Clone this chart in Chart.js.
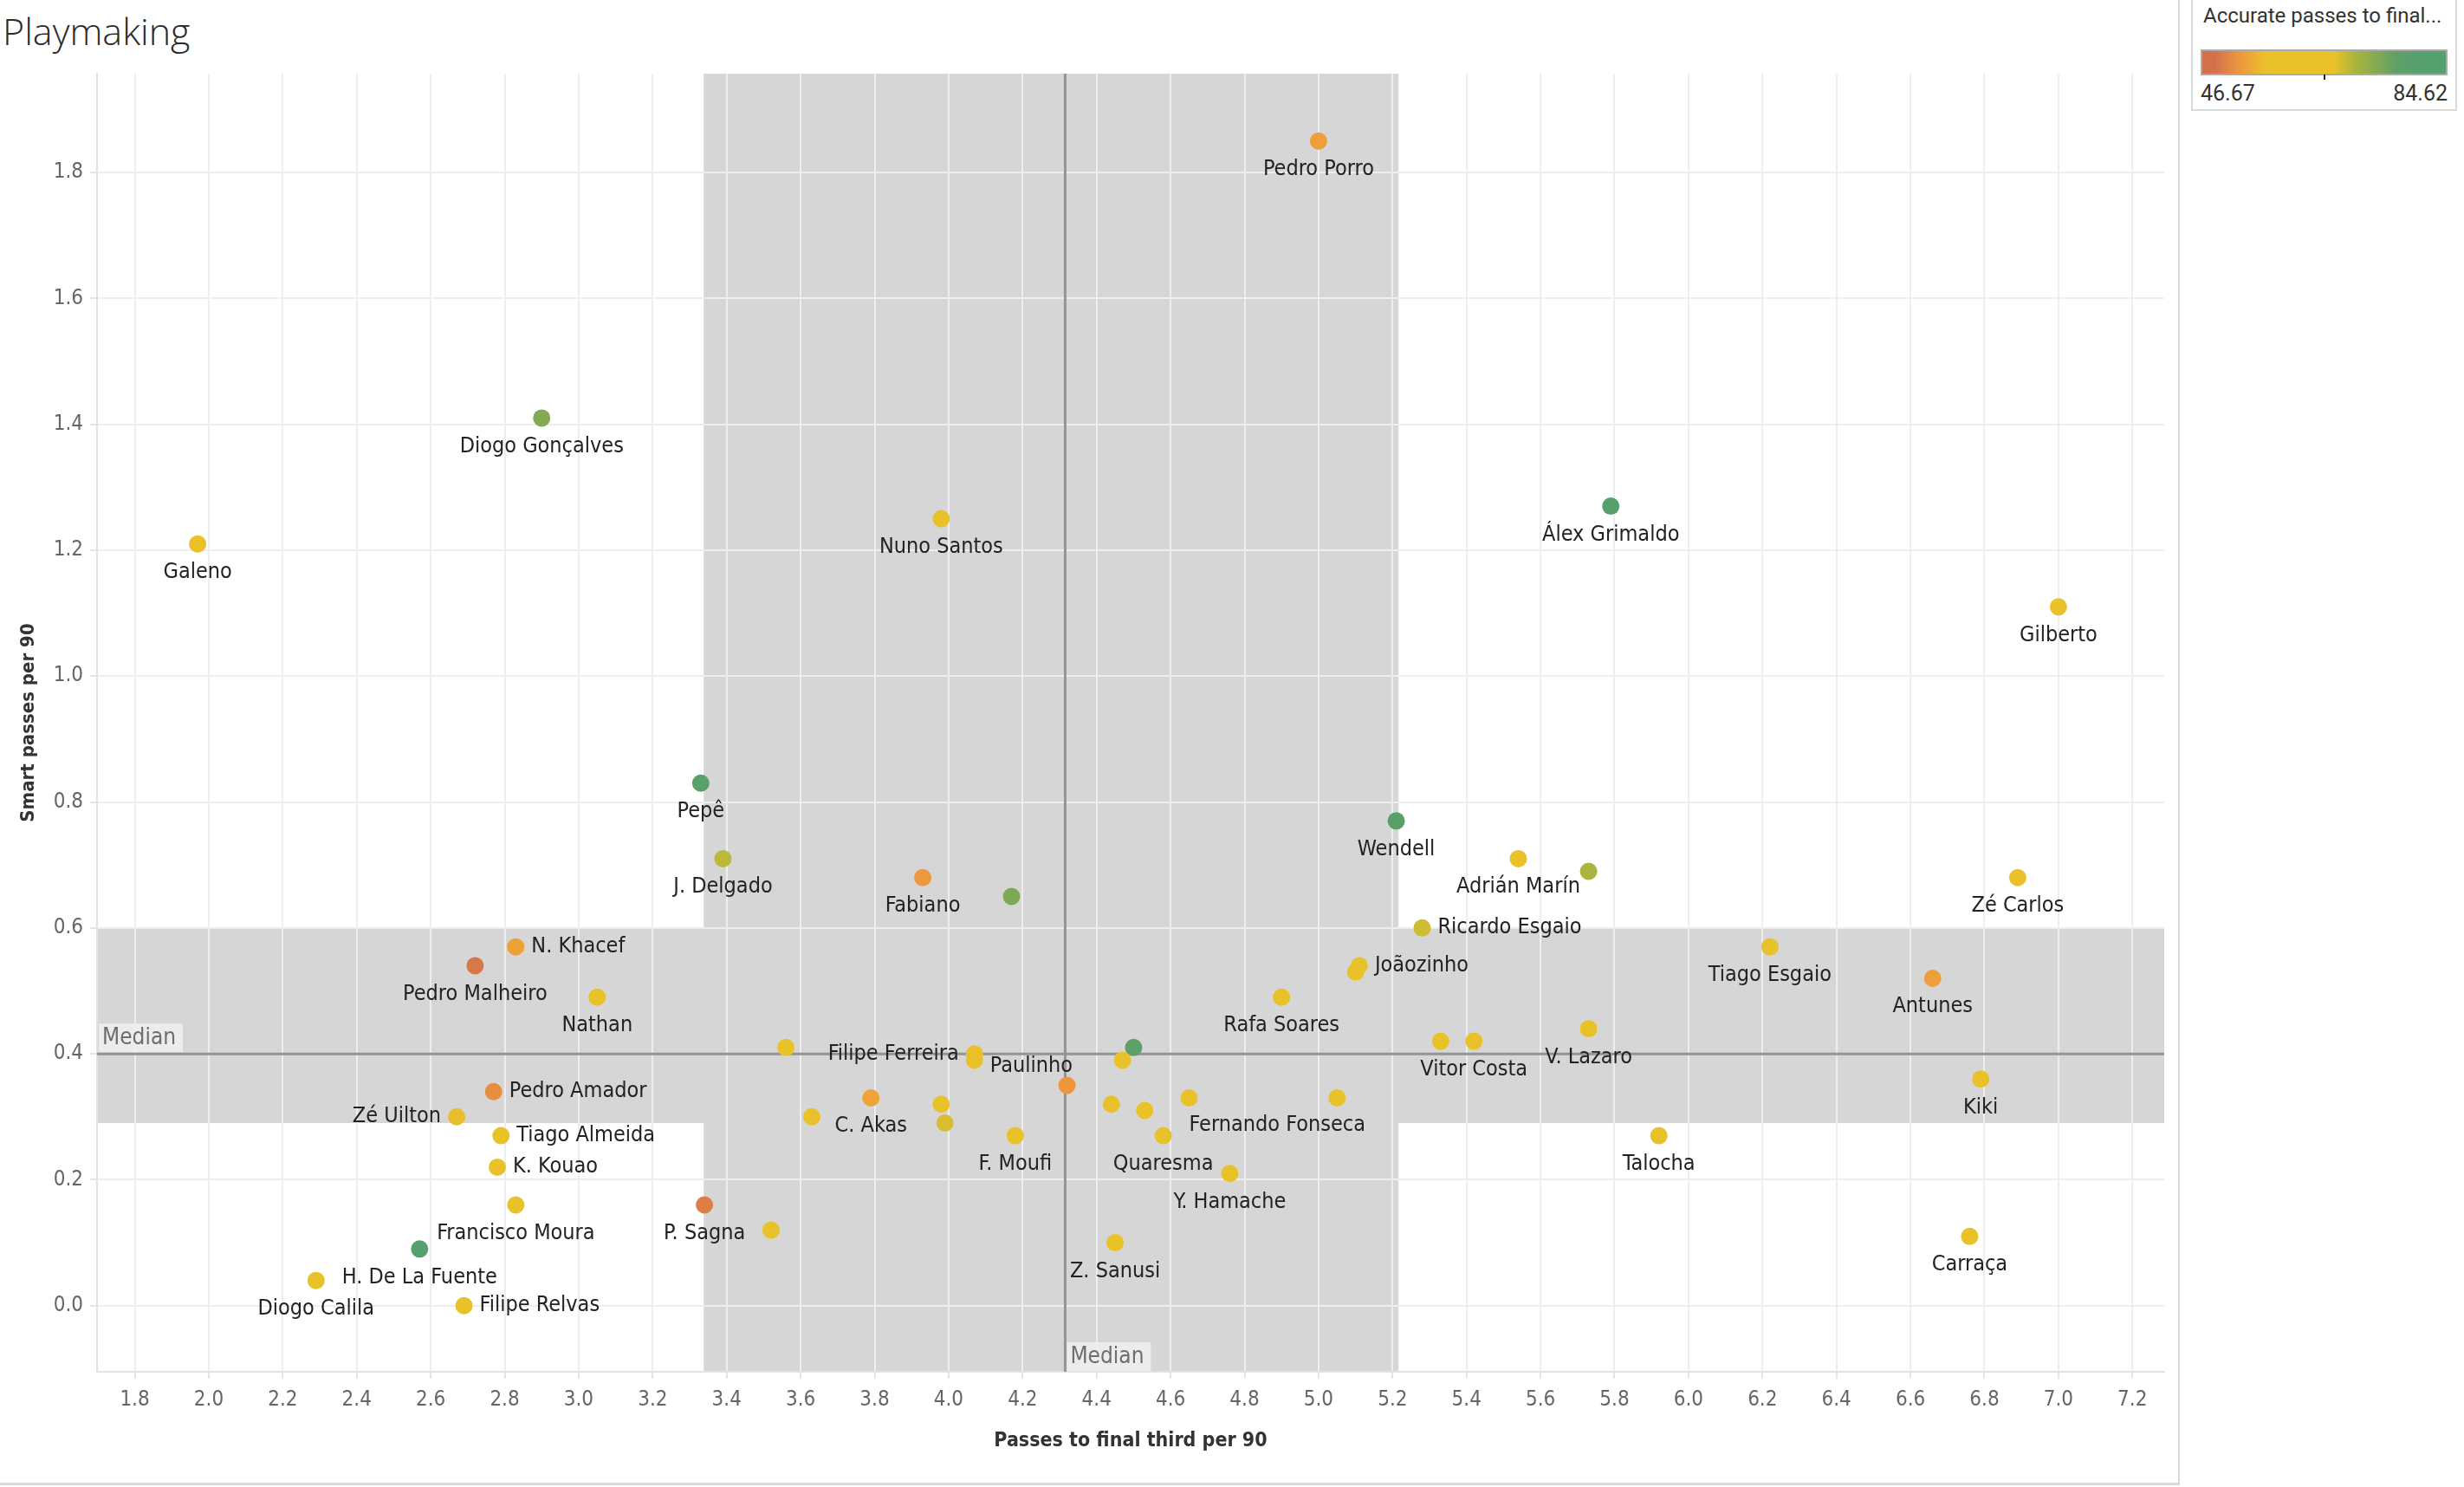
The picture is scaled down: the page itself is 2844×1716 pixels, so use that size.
<!DOCTYPE html>
<html>
<head>
<meta charset="utf-8">
<script src="https://cdn.jsdelivr.net/npm/chart.js@4.4.1/dist/chart.umd.min.js"></script>
<style>
  html, body { margin: 0; padding: 0; background: #fff; }
  body { width: 2844px; height: 1716px; position: relative; overflow: hidden; }
  #title { position: absolute; left: 3px; top: 6px; font: 300 43px "Open Sans", Lato, sans-serif; color: #2b2b2b; }
  #frame { position: absolute; left: 0; top: 0; width: 2514px; height: 1711px; border-right: 2px solid #d9d9d9; border-bottom: 3px solid #d9d9d9; }
  #legend { position: absolute; left: 2529px; top: -2px; width: 307px; height: 130px; box-sizing: border-box; border: 2px solid #d9d9d9; background: #fff; }
  #legTitle { position: absolute; left: 2543px; top: 4px; font: 24px Roboto, sans-serif; color: #333; white-space: nowrap; }
  #legBar { position: absolute; left: 2540px; top: 57px; width: 285px; height: 30px; box-sizing: border-box; border: 2px solid #aaa;
    background: linear-gradient(to right, #d4704a 0%, #d4704a 5%, #ee9a3c 16%, #e9c22a 26%, #e9c22a 54%, #a9b53e 63%, #5f9f66 80%, #55a06e 88%, #55a06e 100%); }
  #legTick { position: absolute; left: 2682px; top: 86px; width: 2px; height: 6px; background: #222; }
  .legVal { position: absolute; top: 93px; font: 25px Roboto, sans-serif; color: #333; }
  canvas { position: absolute; left: 0; top: 0; }
</style>
</head>
<body>
<div id="frame"></div>
<div id="title">Playmaking</div>
<div id="legend"></div>
<div id="legTitle">Accurate passes to final...</div>
<div id="legBar"></div>
<div id="legTick"></div>
<div class="legVal" id="legMin" style="left:2540px"></div>
<div class="legVal" id="legMax" style="left:2724px;width:101px;text-align:right"></div>
<canvas id="chart" width="2844" height="1716"></canvas>
<script>
// players, passes to final third per 90, smart passes per 90, accurate passes to final third %
const players = [
  "Pedro Porro", "Diogo Gonçalves", "Nuno Santos", "Galeno", "Álex Grimaldo", "Gilberto",
  "Pepê", "J. Delgado", "Fabiano", "", "Wendell", "Adrián Marín", "", "Zé Carlos",
  "Ricardo Esgaio", "Joãozinho", "", "Tiago Esgaio", "Antunes", "N. Khacef", "Pedro Malheiro",
  "Nathan", "Rafa Soares", "V. Lazaro", "", "Vitor Costa", "", "Filipe Ferreira", "Paulinho",
  "", "", "", "Pedro Amador", "Zé Uilton", "Tiago Almeida", "K. Kouao", "Francisco Moura",
  "H. De La Fuente", "Diogo Calila", "Filipe Relvas", "P. Sagna", "", "C. Akas", "", "", "",
  "F. Moufi", "", "", "", "Fernando Fonseca", "Quaresma", "Y. Hamache", "Z. Sanusi",
  "Kiki", "Talocha", "Carraça"
];
const passesFinalThird = [
  5.00, 2.90, 3.98, 1.97, 5.79, 7.00,
  3.33, 3.39, 3.93, 4.17, 5.21, 5.54, 5.73, 6.89,
  5.28, 5.11, 5.10, 6.22, 6.66, 2.83, 2.72,
  3.05, 4.90, 5.73, 5.33, 5.42, 3.56, 4.07, 4.07,
  4.50, 4.47, 4.32, 2.77, 2.67, 2.79, 2.78, 2.83,
  2.57, 2.29, 2.69, 3.34, 3.52, 3.79, 3.63, 3.98, 3.99,
  4.18, 4.44, 4.53, 4.65, 5.05, 4.58, 4.76, 4.45,
  6.79, 5.92, 6.76
];
const smartPasses = [
  1.85, 1.41, 1.25, 1.21, 1.27, 1.11,
  0.83, 0.71, 0.68, 0.65, 0.77, 0.71, 0.69, 0.68,
  0.60, 0.54, 0.53, 0.57, 0.52, 0.57, 0.54,
  0.49, 0.49, 0.44, 0.42, 0.42, 0.41, 0.40, 0.39,
  0.41, 0.39, 0.35, 0.34, 0.30, 0.27, 0.22, 0.16,
  0.09, 0.04, 0.00, 0.16, 0.12, 0.33, 0.30, 0.32, 0.29,
  0.27, 0.32, 0.31, 0.33, 0.33, 0.27, 0.21, 0.10,
  0.36, 0.27, 0.11
];
const accuratePct = [
  52.4, 74.5, 60.0, 61.0, 83.0, 60.0,
  82.0, 69.5, 51.8, 75.0, 81.0, 64.0, 70.5, 60.0,
  68.5, 66.0, 62.0, 60.0, 52.5, 52.8, 47.5,
  60.0, 60.0, 60.0, 60.0, 60.0, 61.0, 59.0, 58.5,
  80.0, 60.0, 51.5, 50.5, 55.5, 60.0, 60.0, 60.0,
  84.62, 60.0, 60.0, 48.5, 60.0, 53.0, 60.0, 60.0, 68.0,
  60.0, 60.0, 60.0, 60.0, 60.0, 60.0, 60.0, 60.0,
  60.0, 60.0, 60.0
];
const xTicks = [1.8, 2.0, 2.2, 2.4, 2.6, 2.8, 3.0, 3.2, 3.4, 3.6, 3.8, 4.0, 4.2, 4.4, 4.6, 4.8, 5.0, 5.2, 5.4, 5.6, 5.8, 6.0, 6.2, 6.4, 6.6, 6.8, 7.0, 7.2];
const yTicks = [0.0, 0.2, 0.4, 0.6, 0.8, 1.0, 1.2, 1.4, 1.6, 1.8];
const xMedian = 4.315;
const yMedian = 0.40;
const xBand = [3.338, 5.216];
const yBand = [0.29, 0.60];
const pctRange = [46.67, 84.62];

// colour ramp (value -> colour)
const colorStops = [
  [46.67, [212, 112, 74]],
  [52.0, [238, 154, 60]],
  [56.0, [233, 194, 42]],
  [67.0, [233, 194, 42]],
  [70.5, [169, 181, 62]],
  [78.0, [95, 159, 102]],
  [84.62, [85, 160, 110]]
];
function colorFor(v) {
  for (let i = 1; i < colorStops.length; i++) {
    if (v <= colorStops[i][0]) {
      const [v0, c0] = colorStops[i - 1], [v1, c1] = colorStops[i];
      const t = Math.max(0, (v - v0) / (v1 - v0));
      const c = c0.map((a, k) => Math.round(a + (c1[k] - a) * t));
      return "rgb(" + c.join(",") + ")";
    }
  }
  return "rgb(85,160,110)";
}

document.getElementById("legMin").textContent = pctRange[0].toFixed(2);
document.getElementById("legMax").textContent = pctRange[1].toFixed(2);

// where a name sits relative to its dot (default: below)
const labelPlace = {
  "N. Khacef": "right", "Pedro Amador": "right", "Tiago Almeida": "right", "K. Kouao": "right",
  "Filipe Relvas": "right", "Ricardo Esgaio": "right", "Joãozinho": "right", "Paulinho": "rightLow",
  "Zé Uilton": "left", "Filipe Ferreira": "left", "Fernando Fonseca": "belowLeft"
};

const labelFont = '25px "Liberation Sans Narrow", "DejaVu Sans Condensed", Roboto, sans-serif';
const tickFont = { family: '"Liberation Sans Narrow", "DejaVu Sans Condensed", Roboto, sans-serif', size: 24 };

const refPlugin = {
  id: "refBands",
  beforeDraw(chart) {
    const { ctx, chartArea: a, scales: { x, y } } = chart;
    ctx.save();
    ctx.fillStyle = "#d6d6d6";
    const bx0 = x.getPixelForValue(xBand[0]), bx1 = x.getPixelForValue(xBand[1]);
    ctx.fillRect(bx0, a.top, bx1 - bx0, a.bottom - a.top);
    const by0 = y.getPixelForValue(yBand[1]), by1 = y.getPixelForValue(yBand[0]);
    ctx.fillRect(a.left, by0, a.right - a.left, by1 - by0);
    ctx.restore();
  },
  beforeDatasetsDraw(chart) {
    const { ctx, chartArea: a, scales: { x, y } } = chart;
    const mx = x.getPixelForValue(xMedian), my = y.getPixelForValue(yMedian);
    ctx.save();
    ctx.strokeStyle = "#949494";
    ctx.lineWidth = 3;
    ctx.beginPath();
    ctx.moveTo(mx, a.top); ctx.lineTo(mx, a.bottom);
    ctx.moveTo(a.left, my); ctx.lineTo(a.right, my);
    ctx.stroke();
    ctx.font = "26px " + tickFont.family;
    ctx.textBaseline = "middle";
    ctx.textAlign = "left";
    // horizontal median label
    ctx.fillStyle = "rgba(238,238,238,0.9)";
    ctx.fillRect(a.left + 2, my - 35, 97, 33);
    ctx.fillStyle = "#6e6e6e";
    ctx.fillText("Median", a.left + 6, my - 18);
    // vertical median label
    ctx.fillStyle = "rgba(238,238,238,0.9)";
    ctx.fillRect(mx + 2, a.bottom - 34, 97, 33);
    ctx.fillStyle = "#6e6e6e";
    ctx.fillText("Median", mx + 6, a.bottom - 17);
    ctx.restore();
  },
  afterDatasetsDraw(chart) {
    const { ctx } = chart;
    const pts = chart.getDatasetMeta(0).data;
    ctx.save();
    ctx.font = labelFont;
    ctx.fillStyle = "#222";
    ctx.textBaseline = "middle";
    players.forEach((name, i) => {
      if (!name) return;
      const p = pts[i];
      const place = labelPlace[name] || "below";
      if (place === "right") { ctx.textAlign = "left"; ctx.fillText(name, p.x + 18, p.y); }
      else if (place === "rightLow") { ctx.textAlign = "left"; ctx.fillText(name, p.x + 18, p.y + 7); }
      else if (place === "left") { ctx.textAlign = "right"; ctx.fillText(name, p.x - 18, p.y); }
      else if (place === "belowLeft") { ctx.textAlign = "center"; ctx.fillText(name, p.x - 69, p.y + 32); }
      else { ctx.textAlign = "center"; ctx.fillText(name, p.x, p.y + 33); }
    });
    ctx.restore();
  }
};

new Chart(document.getElementById("chart").getContext("2d"), {
  type: "scatter",
  data: {
    datasets: [{
      data: passesFinalThird.map((v, i) => ({ x: v, y: smartPasses[i] })),
      pointBackgroundColor: accuratePct.map(colorFor),
      pointBorderWidth: 0,
      pointRadius: 10,
      pointHoverRadius: 10
    }]
  },
  options: {
    responsive: false,
    devicePixelRatio: 1,
    animation: false,
    events: [],
    layout: { padding: { top: 85, right: 346, left: 0, bottom: 0 } },
    plugins: { legend: { display: false }, tooltip: { enabled: false } },
    scales: {
      x: {
        type: "linear",
        min: 1.698,
        max: 7.286,
        afterBuildTicks: s => { s.ticks = xTicks.map(v => ({ value: v })); },
        afterFit: s => { s.height = 133; },
        grid: { color: "#eeeeee", lineWidth: 2, tickLength: 8, tickColor: "#e4e4e4" },
        border: { color: "#e2e2e2", width: 2 },
        ticks: { font: tickFont, color: "#666", padding: 10, maxRotation: 0, callback: v => v.toFixed(1) },
        title: { display: true, text: "Passes to final third per 90", color: "#333",
          font: { family: tickFont.family, size: 23, weight: "600" }, padding: { top: 0, bottom: 39 } }
      },
      y: {
        type: "linear",
        min: -0.105,
        max: 1.957,
        afterBuildTicks: s => { s.ticks = yTicks.map(v => ({ value: v })); },
        afterFit: s => { s.width = 112; },
        grid: { color: "#eeeeee", lineWidth: 2, tickLength: 8, tickColor: "#e4e4e4" },
        border: { color: "#e2e2e2", width: 2 },
        ticks: { font: tickFont, color: "#666", padding: 8, callback: v => v.toFixed(1) },
        title: { display: true, text: "Smart passes per 90", color: "#333",
          font: { family: tickFont.family, size: 22, weight: "600" }, padding: { top: 20, bottom: 0 } }
      }
    }
  },
  plugins: [refPlugin]
});
</script>
</body>
</html>
